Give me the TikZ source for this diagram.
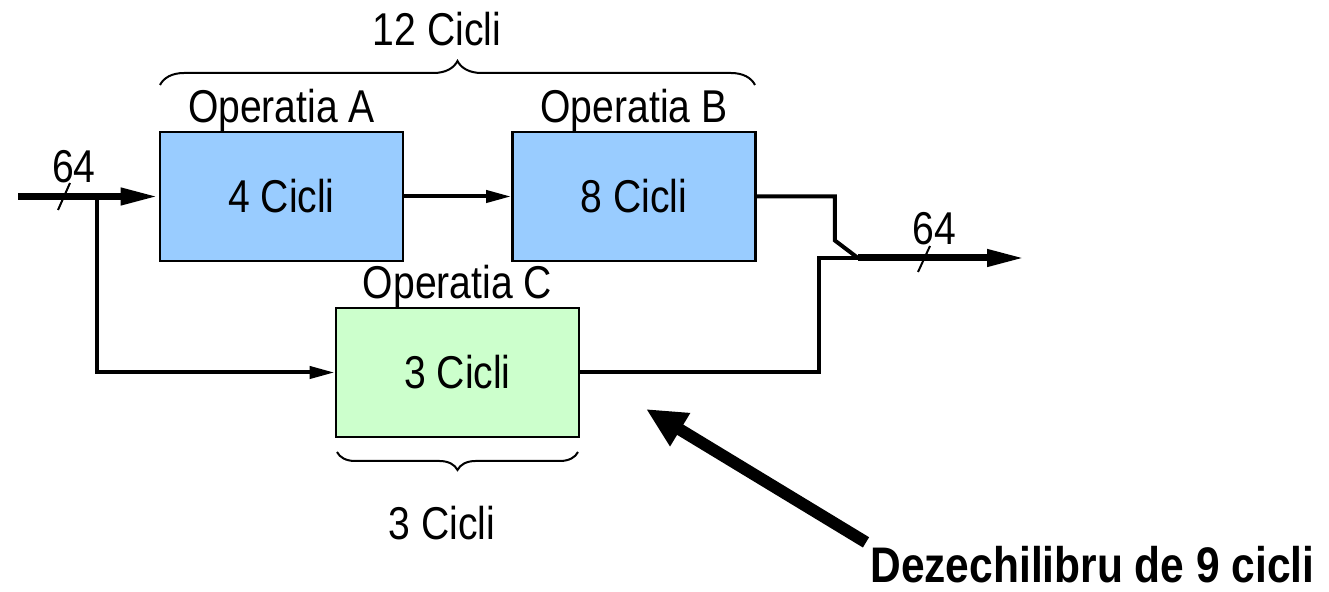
\documentclass[tikz,border=0pt]{standalone}
\usepackage{fontspec}
\setmainfont{Liberation Sans}[FakeStretch=0.85]
\usetikzlibrary{arrows.meta,decorations.pathreplacing}
\definecolor{opblue}{RGB}{153,204,255}
\definecolor{opgreen}{RGB}{204,255,204}

\begin{document}
\begin{tikzpicture}[
    x=0.5pt,
    y=-0.5pt,
    every node/.style={
        font=\fontsize{23}{27}\selectfont,
    },
    stage/.style={
        draw,
        line width=1.4pt,
        minimum width=121.5pt,
        minimum height=64.5pt,
        inner sep=0pt,
    },
    stagename/.style={anchor=base, yshift=4pt},
    wire/.style={line width=2pt, -{Triangle[length=12.5pt,width=6pt]}},
    plainwire/.style={line width=2pt},
    bus/.style={line width=3.5pt, -{Triangle[length=19pt,width=8pt]}},
    tick/.style={line width=1pt},
    cbrace/.style={decorate, line width=1pt, decoration={brace, amplitude=#1}},
    bigarrow/.style={line width=6pt, -{Triangle[length=20pt,width=18pt]}},
    ]
    \useasboundingbox (0,0) rectangle (1329,592);

    \node[stage, fill=opblue,
        label={[name=nameA, stagename]north:Operatia A}] (boxA) at (281.5,196.5) {4 Cicli};
    \node[stage, fill=opblue,
        label={[name=nameB, stagename]north:Operatia B}] (boxB) at (634,196.5) {8 Cicli};
    \node[stage, fill=opgreen,
        label={[name=nameC, stagename]north:Operatia C}] (boxC) at (457.5,372.5) {3 Cicli};

    \coordinate (in) at (18,196.5);
    \coordinate (split) at (97,196.5);
    \coordinate (tapC) at (819,258);
    \coordinate (join) at (858,258);
    \coordinate (out) at (1025,258);

    \draw[bus] (in) -- (boxA.west);
    \draw[wire] (split) |- (boxC.west);
    \draw[wire] (boxA.east) -- (boxB.west);
    \draw[plainwire] (boxB.east) -- ++(78,0) -- ++(0,44) -- (join);
    \draw[plainwire] (boxC.east) -| (tapC) -- (join);
    \draw[bus] (join) -- (out);

    \draw[tick] (58,210) -- (70,183);
    \node[anchor=base] (widthIn) at (74,183) {64};
    \draw[tick] (918,272) -- (930,246);
    \node[anchor=base] (widthOut) at (934,245) {64};

    \draw[cbrace=12pt] (160,85) -- (755,85);
    \node[anchor=base] (totalAB) at (437,46) {12 Cicli};
    \draw[cbrace=9pt] (578,452) -- (337,452);
    \node[anchor=base] (totalC) at (442,540) {3 Cicli};

    \node[anchor=base west, inner sep=2pt, font=\fontsize{25}{30}\selectfont\bfseries]
        (note) at (866,583) {Dezechilibru de 9 cicli};
    \coordinate (aim) at (646,409);
    \draw[bigarrow] (note.north west) -- (aim);
\end{tikzpicture}
\end{document}
